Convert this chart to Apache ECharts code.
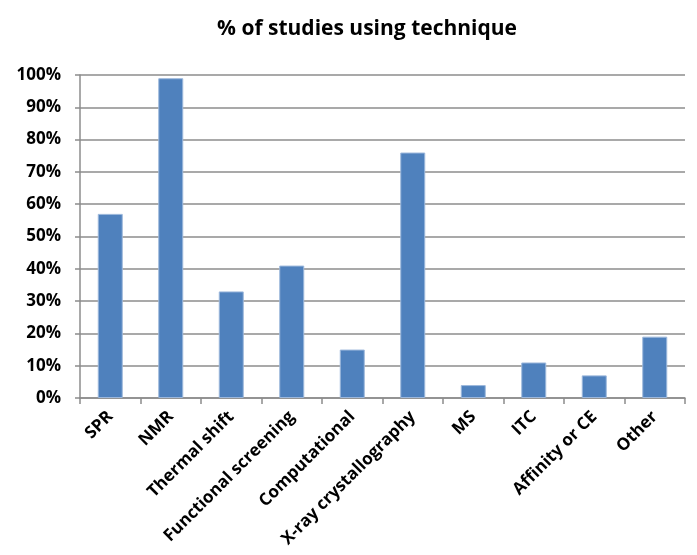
<!DOCTYPE html>
<html>
<head>
<meta charset="utf-8">
<script src="https://cdn.jsdelivr.net/npm/echarts@6/dist/echarts.min.js"></script>
<style>
  html, body { margin: 0; padding: 0; background: #fff; }
  #chart { width: 697px; height: 555px; }
</style>
</head>
<body>
<div id="chart"></div>
<script>
// Techniques and the share of studies that used each one (percent)
const techniques = ['SPR', 'NMR', 'Thermal shift', 'Functional screening', 'Computational',
  'X-ray crystallography', 'MS', 'ITC', 'Affinity or CE', 'Other'];
const percentUsing = [57, 99, 33, 41, 15, 76, 4, 11, 7, 19];
const yTicks = [0, 10, 20, 30, 40, 50, 60, 70, 80, 90, 100];

const font = '"Open Sans", "Liberation Sans", sans-serif';
const chart = echarts.init(document.getElementById('chart'), null, { renderer: 'canvas' });

chart.setOption({
  animation: false,
  title: {
    text: '% of studies using technique',
    left: 362,
    top: 14,
    textAlign: 'center',
    textStyle: { fontFamily: font, fontWeight: 'bold', fontSize: 21, color: '#000' }
  },
  grid: { left: 80, right: 12, top: 75, bottom: 157, containLabel: false },
  xAxis: {
    type: 'category',
    data: techniques,
    axisLine: { lineStyle: { color: '#8c8c8c', width: 1.5 } },
    axisTick: { show: true, alignWithLabel: false, length: 6, lineStyle: { color: '#8c8c8c', width: 1.5 } },
    axisLabel: {
      interval: 0,
      rotate: 45,
      margin: 16,
      fontFamily: font,
      fontWeight: 'bold',
      fontSize: 17,
      color: '#000'
    }
  },
  yAxis: {
    type: 'value',
    min: yTicks[0],
    max: yTicks[yTicks.length - 1],
    interval: 10,
    axisLine: { show: true, lineStyle: { color: '#8c8c8c', width: 1.5 } },
    axisTick: { show: true, length: 5, lineStyle: { color: '#8c8c8c', width: 1.5 } },
    splitLine: { show: true, lineStyle: { color: '#8c8c8c', width: 1.5 } },
    axisLabel: {
      margin: 19,
      formatter: '{value}%',
      fontFamily: font,
      fontWeight: 'bold',
      fontSize: 17,
      color: '#000'
    }
  },
  series: [{
    type: 'bar',
    data: percentUsing,
    barWidth: 25,
    itemStyle: { color: '#4F81BD', borderColor: '#9DB8DC', borderWidth: 1 }
  }]
});
</script>
</body>
</html>
